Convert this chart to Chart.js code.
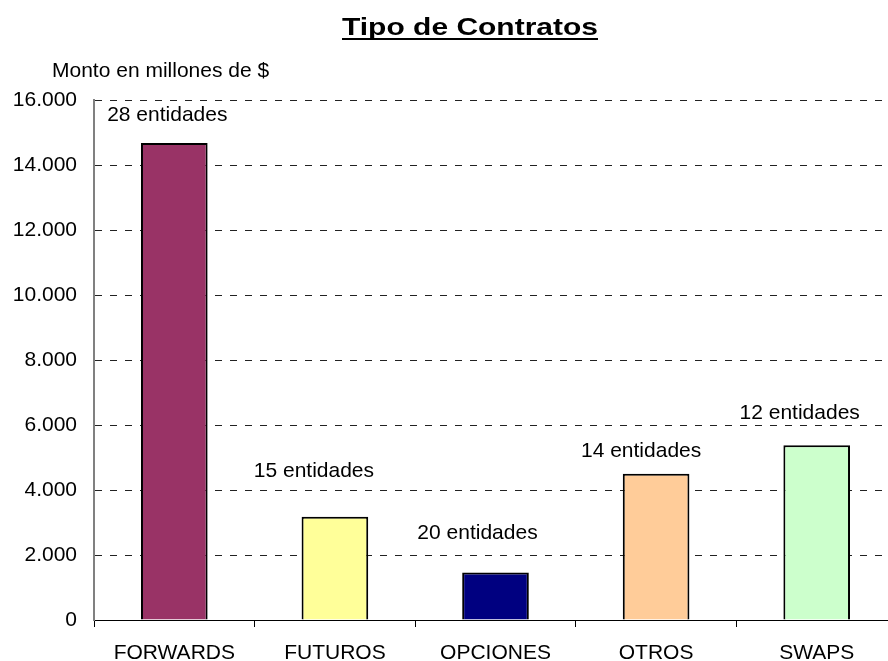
<!DOCTYPE html>
<html>
<head>
<meta charset="utf-8">
<script src="https://cdn.jsdelivr.net/npm/chart.js@4"></script>
<style>
  html, body { margin: 0; padding: 0; background: #fff; overflow: hidden; }
  canvas { display: block; }
</style>
</head>
<body>
<canvas id="contratosChart" width="897" height="661"></canvas>
<script>
const categories = ["FORWARDS", "FUTUROS", "OPCIONES", "OTROS", "SWAPS"];
const montos = [14680, 3180, 1460, 4500, 5380];
const entidades = ["28 entidades", "15 entidades", "20 entidades", "14 entidades", "12 entidades"];
const barColors = ["#993366", "#FFFF99", "#000080", "#FFCC99", "#CCFFCC"];
const yTicks = [0, 2000, 4000, 6000, 8000, 10000, 12000, 14000, 16000];

// where each "NN entidades" label sits, relative to the top of its bar (hand placed in the original)
const labelOffsets = [[-7, -28], [-21, -45], [-18, -39], [-15, -23], [-17, -32]];

const FONT = "'Liberation Sans', Arial, sans-serif";

function fmtMiles(v) {
  return String(v).replace(/\B(?=(\d{3})+(?!\d))/g, ".");
}

const textPlugin = {
  id: "textPlugin",
  afterDraw(chart) {
    const ctx = chart.ctx;
    ctx.save();
    ctx.fillStyle = "#000";

    // title, bold + underlined, drawn a bit wide like the original
    ctx.font = "bold 24px " + FONT;
    ctx.textAlign = "left";
    ctx.textBaseline = "alphabetic";
    const title = "Tipo de Contratos";
    const rawW = ctx.measureText(title).width;
    const targetW = 256;
    const sx = targetW / rawW;
    const tx = 470 - targetW / 2;
    ctx.save();
    ctx.translate(tx, 0);
    ctx.scale(sx, 1);
    ctx.fillText(title, 0, 35);
    ctx.restore();
    ctx.fillRect(tx, 38, targetW, 2);

    // y axis caption
    ctx.font = "21px " + FONT;
    ctx.fillText("Monto en millones de $", 52, 77);

    // bar labels
    ctx.textAlign = "center";
    ctx.textBaseline = "middle";
    const meta = chart.getDatasetMeta(0);
    meta.data.forEach((bar, i) => {
      const off = labelOffsets[i];
      ctx.fillText(entidades[i], bar.x + off[0], bar.y + off[1]);
    });
    ctx.restore();
  }
};

const ctx = document.getElementById("contratosChart").getContext("2d");
new Chart(ctx, {
  type: "bar",
  data: {
    labels: categories,
    datasets: [{
      data: montos,
      backgroundColor: barColors,
      borderColor: "#000",
      borderWidth: 2,
      barPercentage: 0.415,
      categoryPercentage: 1
    }]
  },
  options: {
    responsive: false,
    animation: false,
    layout: { padding: { top: 100, left: 0, right: 0, bottom: 0 } },
    plugins: {
      legend: { display: false },
      tooltip: { enabled: false },
      title: { display: false }
    },
    scales: {
      x: {
        offset: true,
        afterFit(scale) { scale.height = 41; },
        grid: {
          offset: true,
          drawOnChartArea: false,
          drawTicks: true,
          tickLength: 7,
          color: "#000"
        },
        border: { color: "#000", width: 1 },
        ticks: {
          color: "#000",
          font: { family: FONT, size: 21 },
          padding: 14,
          maxRotation: 0
        }
      },
      y: {
        min: 0,
        max: 16000,
        afterFit(scale) { scale.width = 94; },
        afterBuildTicks(scale) {
          scale.ticks = yTicks.map(v => ({ value: v }));
        },
        grid: {
          drawTicks: false,
          color: "#222",
          lineWidth: 1
        },
        border: { color: "#808080", width: 2, dash: [7, 8] },
        ticks: {
          color: "#000",
          font: { family: FONT, size: 21 },
          padding: 17,
          callback: v => fmtMiles(v)
        }
      }
    }
  },
  plugins: [textPlugin]
});
</script>
</body>
</html>
